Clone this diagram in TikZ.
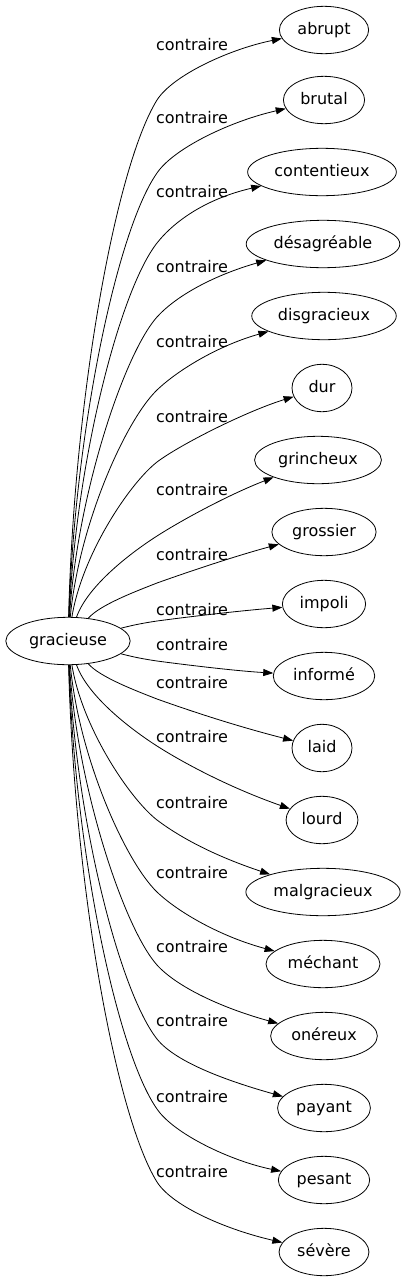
\documentclass[tikz,border=0pt]{standalone}
\usepackage{fontspec}
\setmainfont{DejaVu Sans}
\usetikzlibrary{arrows.meta,shapes.geometric}

\tikzset{
  word/.style={draw, ellipse, line width=0.8pt, inner xsep=5pt, inner ysep=9pt,
    minimum width=60pt, text height=12pt, text depth=3.5pt,
    font=\fontsize{16}{19}\selectfont},
  rel/.style={inner sep=0pt, font=\fontsize{16}{19}\selectfont},
  link/.style={line width=0.8pt, -{Triangle[length=10pt,width=7pt]}},
}

\begin{document}
\begin{tikzpicture}[x=1pt,y=-1pt]
  \useasboundingbox (0,0) rectangle (408,1283);

  % source word
  \node[word] (src) at (68,641) {gracieuse};

  % target words
  \foreach \n/\t/\x/\y in {abrupt/abrupt/324/30, brutal/brutal/324/100,
      contentieux/contentieux/322/172, desagreable/désagréable/323/244,
      disgracieux/disgracieux/324/316, dur/dur/322/388,
      grincheux/grincheux/318/460, grossier/grossier/324/532,
      impoli/impoli/324/604, informe/informé/324/676,
      laid/laid/322/748, lourd/lourd/322/820,
      malgracieux/malgracieux/323/892, mechant/méchant/323/964,
      onereux/onéreux/324/1036, payant/payant/324/1108,
      pesant/pesant/324/1180, severe/sévère/324/1252}
    \node[word] (\n) at (\x,\y) {\t};

  % edge labels
  \foreach \ly [count=\i] in {45,118,192,267,342,417,490,555,610,
      645,683,737,803,873,947,1021,1097,1172}
    \node[rel] (lab\i) at (192,\ly) {contraire};

  % upper edges
  \draw[link] (src) .. controls (74,400) and (115,168) .. (157,100)
    .. controls (173,75) and (230,49) .. (abrupt);
  \draw[link] (src) .. controls (75,430) and (117,230) .. (157,173)
    .. controls (174,148) and (231,121) .. (brutal);
  \draw[link] (src) .. controls (76,460) and (120,290) .. (157,243)
    .. controls (176,219) and (209,198) .. (contentieux);
  \draw[link] (src) .. controls (77,495) and (124,354) .. (157,317)
    .. controls (177,295) and (215,275) .. (desagreable);
  \draw[link] (src) .. controls (79,525) and (125,421) .. (157,390)
    .. controls (179,369) and (220,345) .. (disgracieux);
  \draw[link] (src) .. controls (82,555) and (129,484) .. (157,462)
    .. controls (181,444) and (247,411) .. (dur);
  \draw[link] (src) .. controls (88,585) and (132,552) .. (157,536)
    .. controls (182,520) and (228,495) .. (grincheux);
  \draw[link] (src) .. controls (100,605) and (134,592) .. (157,583)
    .. controls (185,573) and (232,557) .. (grossier);
  \draw[link] (src) .. controls (130,626) and (137,624) .. (157,621)
    .. controls (187,617) and (237,611) .. (impoli);

  % lower edges
  \draw[link] (src) .. controls (130,656) and (137,658) .. (157,661)
    .. controls (187,665) and (237,671) .. (informe);
  \draw[link] (src) .. controls (100,677) and (134,690) .. (157,699)
    .. controls (185,709) and (232,725) .. (laid);
  \draw[link] (src) .. controls (88,697) and (132,730) .. (157,746)
    .. controls (182,762) and (228,787) .. (lourd);
  \draw[link] (src) .. controls (82,727) and (129,798) .. (157,820)
    .. controls (181,838) and (215,856) .. (malgracieux);
  \draw[link] (src) .. controls (79,757) and (125,861) .. (157,892)
    .. controls (179,913) and (222,937) .. (mechant);
  \draw[link] (src) .. controls (77,787) and (124,928) .. (157,965)
    .. controls (177,987) and (222,1008) .. (onereux);
  \draw[link] (src) .. controls (76,822) and (120,992) .. (157,1039)
    .. controls (176,1063) and (231,1082) .. (payant);
  \draw[link] (src) .. controls (75,852) and (117,1052) .. (157,1109)
    .. controls (174,1134) and (231,1161) .. (pesant);
  \draw[link] (src) .. controls (74,882) and (115,1114) .. (157,1182)
    .. controls (173,1207) and (228,1230) .. (severe);
\end{tikzpicture}
\end{document}
